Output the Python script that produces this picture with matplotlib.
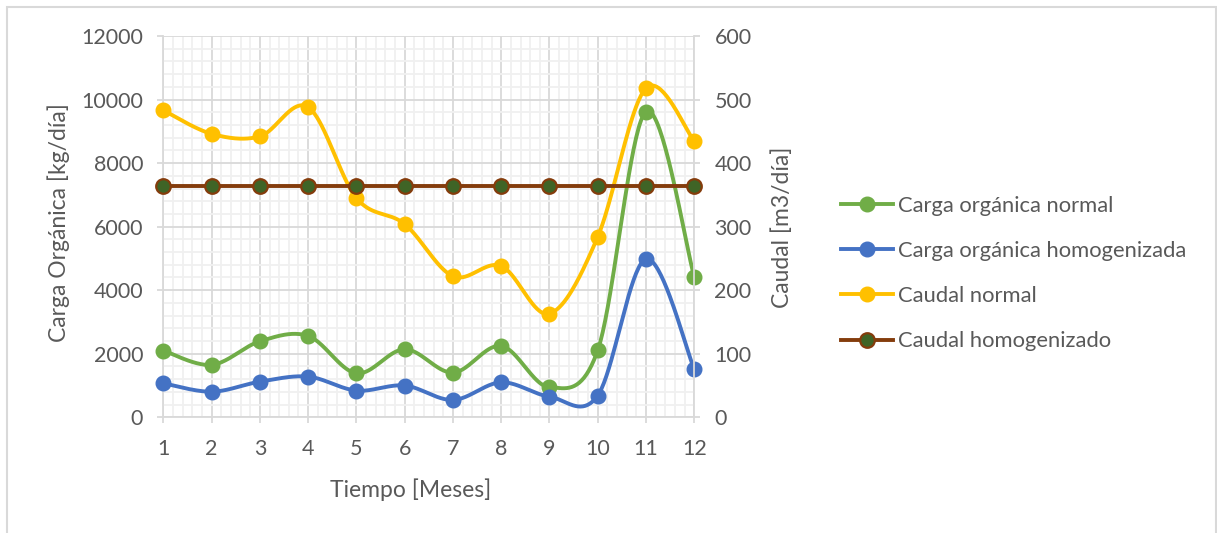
import numpy as np
import matplotlib.pyplot as plt
from matplotlib.lines import Line2D
from matplotlib.patches import Rectangle

plt.rcParams['font.family'] = ['Lato', 'DejaVu Sans']

# Monthly data
meses = np.arange(1, 13)
carga_normal = [2100, 1650, 2390, 2560, 1385, 2140, 1405, 2245, 945, 2110, 9620, 4410]
carga_homog = [1070, 805, 1120, 1280, 840, 1000, 545, 1100, 650, 685, 4980, 1510]
caudal_normal = [483, 446, 442, 488, 345, 304, 222, 238, 163, 284, 518, 434]
caudal_homog = [364] * 12

c_green = '#70AD47'
c_blue = '#4472C4'
c_yellow = '#FFC000'
c_brown = '#843C0C'
c_dkgreen = '#3F6426'
txt = '#595959'


def smooth(x, y, n=40):
    # Bezier smoothing like Excel's "smoothed line"
    x = np.asarray(x, float)
    y = np.asarray(y, float)
    P = np.column_stack([x, y])
    Pe = np.vstack([P[0], P, P[-1]])
    out = []
    t = np.linspace(0, 1, n)[:, None]
    for i in range(len(P) - 1):
        p0, p1, p2, p3 = Pe[i], Pe[i + 1], Pe[i + 2], Pe[i + 3]
        c1 = p1 + (p2 - p0) / 6
        c2 = p2 - (p3 - p1) / 6
        seg = ((1 - t) ** 3) * p1 + 3 * ((1 - t) ** 2) * t * c1 + 3 * (1 - t) * t ** 2 * c2 + t ** 3 * p2
        out.append(seg if i == 0 else seg[1:])
    out = np.vstack(out)
    return out[:, 0], out[:, 1]


fig = plt.figure(figsize=(12.17, 5.33), dpi=100)
fig.patches.append(Rectangle((7 / 1217, -0.05), 1209 / 1217, 1.05 - 7 / 533,
                             transform=fig.transFigure, fill=False,
                             edgecolor='#D9D9D9', linewidth=1.5))

ax = fig.add_axes([0.1342, 0.2171, 0.4363, 0.7154])
ax2 = ax.twinx()

lw = 2.8
ms = 10.5
for vals, col in [(carga_normal, c_green), (carga_homog, c_blue)]:
    sx, sy = smooth(meses, vals)
    ax.plot(sx, sy, color=col, lw=lw, solid_capstyle='round', zorder=3, clip_on=False)
    ax.plot(meses, vals, 'o', color=col, ms=ms, zorder=4, clip_on=False)

sx, sy = smooth(meses, caudal_normal)
ax2.plot(sx, sy, color=c_yellow, lw=lw, solid_capstyle='round', zorder=3, clip_on=False)
ax2.plot(meses, caudal_normal, 'o', color=c_yellow, ms=ms, zorder=4, clip_on=False)
ax2.plot(meses, caudal_homog, color=c_brown, lw=lw, zorder=3, clip_on=False)
ax2.plot(meses, caudal_homog, 'o', mfc=c_dkgreen, mec=c_brown, mew=1.6, ms=ms,
         zorder=4, clip_on=False)

ax.set_xlim(1, 12)
ax.set_ylim(0, 12000)
ax2.set_ylim(0, 600)
ax.set_xticks(meses)
ax.set_xticks(np.arange(1, 12.01, 0.2), minor=True)
ax.set_yticks(np.arange(0, 12001, 2000))
ax.set_yticks(np.arange(0, 12001, 400), minor=True)
ax2.set_yticks(np.arange(0, 601, 100))

ax.grid(which='major', color='#D9D9D9', lw=1.3, zorder=0)
ax.grid(which='minor', color='#F0F0F0', lw=1.3, zorder=0)
ax.set_axisbelow(True)

for a in (ax, ax2):
    for s in a.spines.values():
        s.set_visible(False)
    a.tick_params(which='major', length=4.5, width=1.3, color='#D9D9D9',
                  labelsize=15.5, labelcolor=txt, pad=10)
    a.tick_params(which='minor', length=0)
for a, side in [(ax, 'bottom'), (ax, 'left'), (ax2, 'right')]:
    a.spines[side].set_visible(True)
    a.spines[side].set_color('#D9D9D9')
    a.spines[side].set_linewidth(1.3)
ax.tick_params(axis='x', pad=11)

ax.set_xlabel('Tiempo [Meses]', fontsize=16.5, color=txt)
ax.xaxis.set_label_coords((411 - 163.3) / 531, -0.16)
ax.set_ylabel('Carga Orgánica [kg/día]', fontsize=16.5, color=txt)
ax.yaxis.set_label_coords((70 - 163.3) / 531, (533 - 223 - 115.7) / 381.3)
ax2.set_ylabel('Caudal [m3/día]', fontsize=16.5, color=txt)
ax2.yaxis.set_label_coords((771 - 163.3) / 531, (533 - 227 - 115.7) / 381.3)

handles = [
    Line2D([], [], color=c_green, lw=lw, marker='o', ms=ms),
    Line2D([], [], color=c_blue, lw=lw, marker='o', ms=ms),
    Line2D([], [], color=c_yellow, lw=lw, marker='o', ms=ms),
    Line2D([], [], color=c_brown, lw=lw, marker='o', mfc=c_dkgreen, mec=c_brown, mew=1.6, ms=ms),
]
labels = ['Carga orgánica normal', 'Carga orgánica homogenizada',
          'Caudal normal', 'Caudal homogenizado']
leg = fig.legend(handles, labels, loc='center left',
                 bbox_to_anchor=(821 / 1217, (533 - 273.5) / 533),
                 frameon=False, fontsize=15.8, labelcolor=txt,
                 handlelength=2.4, handletextpad=0.2, labelspacing=1.15)

fig.savefig('out.png', dpi=100)
